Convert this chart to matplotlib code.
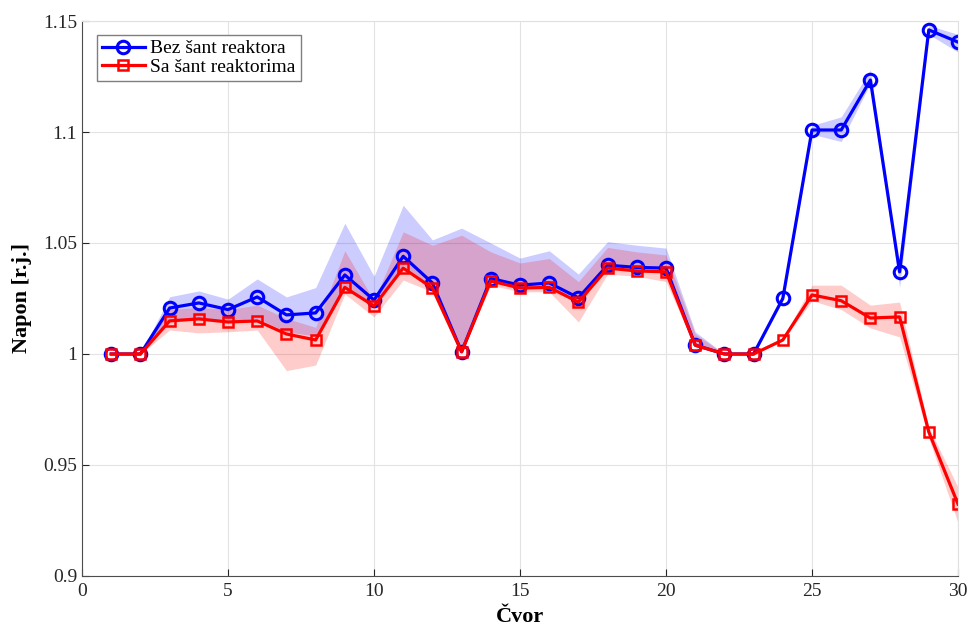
import numpy as np
import matplotlib.pyplot as plt

plt.rcParams['font.family'] = ['Liberation Serif', 'DejaVu Serif']

nodes = list(range(1, 31))

# napon bez sant reaktora
v_bez = [1.000, 1.000, 1.0207, 1.023, 1.020, 1.0257, 1.0176, 1.0185, 1.0356, 1.0243,
         1.044, 1.032, 1.001, 1.034, 1.031, 1.032, 1.0253, 1.040, 1.039, 1.0387,
         1.004, 1.000, 1.000, 1.025, 1.1009, 1.1009, 1.1234, 1.037, 1.146, 1.1405]
bez_lo = [1.000, 1.000, 1.015, 1.016, 1.015, 1.016, 1.010, 1.008, 1.031, 1.022,
          1.040, 1.030, 1.001, 1.033, 1.030, 1.031, 1.022, 1.039, 1.038, 1.037,
          1.004, 1.000, 1.000, 1.024, 1.099, 1.0957, 1.122, 1.030, 1.144, 1.136]
bez_hi = [1.000, 1.000, 1.0258, 1.0284, 1.0247, 1.0338, 1.0257, 1.0299, 1.0589, 1.035,
          1.067, 1.0514, 1.0567, 1.050, 1.0432, 1.0465, 1.036, 1.0506, 1.049, 1.0477,
          1.010, 1.000, 1.000, 1.026, 1.103, 1.1068, 1.128, 1.038, 1.148, 1.144]

# napon sa sant reaktorima
v_sa = [1.000, 1.000, 1.0149, 1.0158, 1.0144, 1.0149, 1.009, 1.0063, 1.030, 1.0216,
        1.0387, 1.0297, 1.001, 1.0329, 1.0297, 1.030, 1.0234, 1.0387, 1.0374, 1.037,
        1.004, 1.000, 1.000, 1.0063, 1.0266, 1.024, 1.0162, 1.0167, 0.9649, 0.9324]
sa_lo = [1.000, 1.000, 1.0108, 1.0095, 1.010, 1.0108, 0.9925, 0.995, 1.027, 1.0167,
         1.0333, 1.028, 1.001, 1.031, 1.028, 1.028, 1.0144, 1.036, 1.035, 1.0326,
         1.003, 1.000, 1.000, 1.006, 1.024, 1.020, 1.0117, 1.0077, 0.962, 0.924]
sa_hi = [1.000, 1.000, 1.020, 1.021, 1.020, 1.022, 1.016, 1.012, 1.0465, 1.024,
         1.055, 1.049, 1.0535, 1.046, 1.041, 1.043, 1.0326, 1.048, 1.046, 1.0446,
         1.009, 1.000, 1.000, 1.007, 1.031, 1.031, 1.022, 1.0234, 0.967, 0.940]

fig = plt.figure(figsize=(9.71, 6.29), dpi=100)
ax = fig.add_axes([0.0845, 0.0843, 0.9021, 0.8823])

ax.fill_between(nodes, bez_lo, bez_hi, color=(0, 0, 1), alpha=0.2, linewidth=0)
ax.fill_between(nodes, sa_lo, sa_hi, color=(1, 0, 0), alpha=0.2, linewidth=0)

ax.plot(nodes, v_bez, '-o', color=(0, 0, 1), lw=2.3, ms=9, mfc='none', mew=2.2,
        label='Bez šant reaktora')
ax.plot(nodes, v_sa, '-s', color=(1, 0, 0), lw=2.3, ms=7, mfc='none', mew=1.8,
        label='Sa šant reaktorima')

ax.set_xlim(0, 30)
ax.set_ylim(0.9, 1.15)
ax.set_xticks(range(0, 31, 5))
ax.set_yticks([0.9, 0.95, 1.0, 1.05, 1.1, 1.15])
ax.set_yticklabels(['0.9', '0.95', '1', '1.05', '1.1', '1.15'])
ax.tick_params(direction='in', labelsize=14, colors='#262626', length=5)
ax.tick_params(axis='x', pad=5)
ax.grid(True, color='#e3e3e3', linewidth=0.8)
ax.set_axisbelow(True)
for s in ['left', 'bottom']:
    ax.spines[s].set_color('#4d4d4d')
for s in ['top', 'right']:
    ax.spines[s].set_color('#e0e0e0')

ax.set_xlabel('Čvor', fontsize=16, fontweight='bold', labelpad=5)
ax.set_ylabel('Napon [r.j.]', fontsize=16, fontweight='bold', labelpad=8)

leg = ax.legend(loc='upper left', fontsize=14, fancybox=False, framealpha=1,
                edgecolor='#7f7f7f', handlelength=2.2, handletextpad=0.3,
                borderpad=0.25, labelspacing=0.05, borderaxespad=0,
                bbox_to_anchor=(0.017, 0.975))
leg.get_frame().set_linewidth(1.0)

fig.savefig('out.png', dpi=100)
